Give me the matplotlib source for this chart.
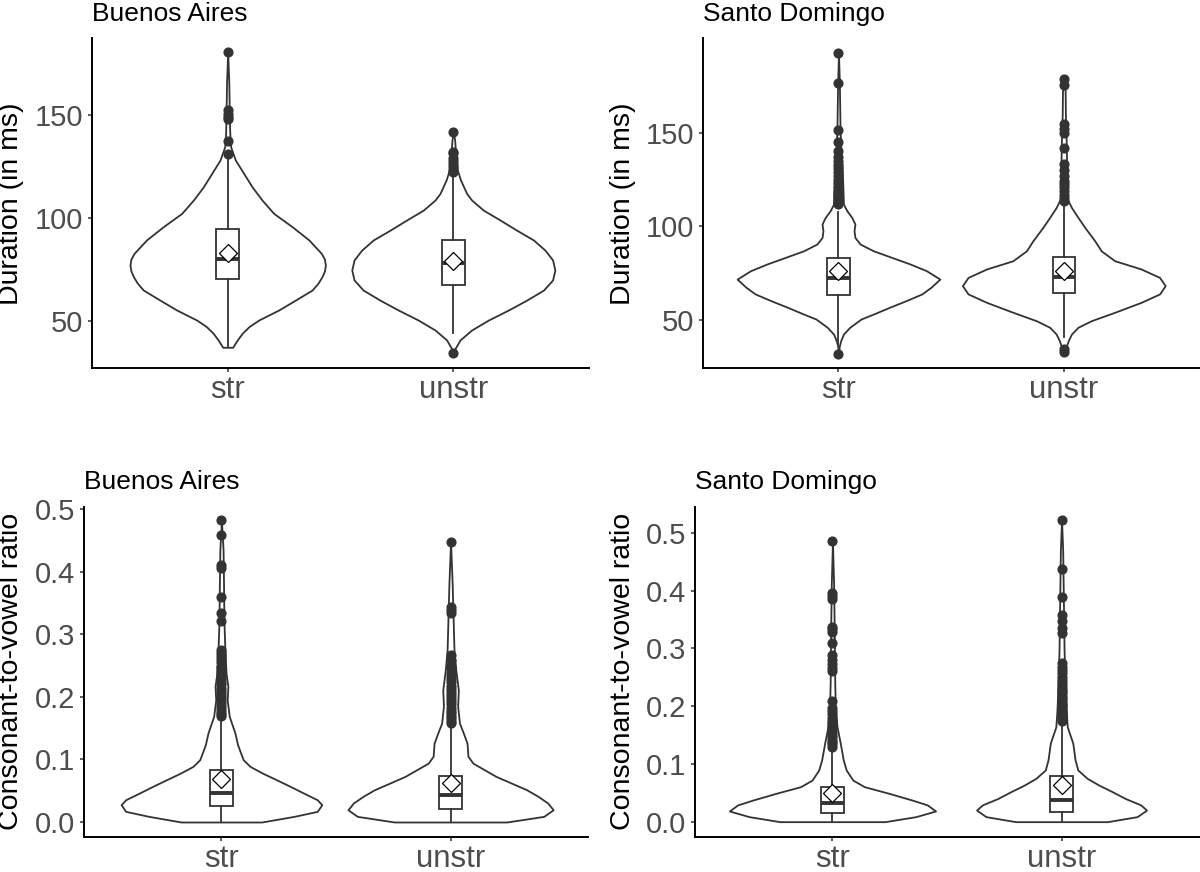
import matplotlib
matplotlib.use("Agg")
import matplotlib.pyplot as plt
from matplotlib.ticker import FormatStrFormatter
from matplotlib.transforms import blended_transform_factory

plt.rcParams['font.family'] = ['Liberation Sans', 'DejaVu Sans']

categories = ["str", "unstr"]

# ---- violin outlines: value grid + half width (x units)
ba_dur_str_y = [37.4, 40.9, 44.3, 47.5, 50.6, 55.5, 60.3, 65.2, 68.5, 71.7, 74.5, 77.3, 80.2, 83.0,
                89.5, 96.0, 102.4, 108.9, 115.3, 121.8, 128.3, 134.8, 142.0, 152.0, 166.0, 180.6]
ba_dur_str_w = [0.022, 0.042, 0.065, 0.095, 0.137, 0.226, 0.300, 0.374, 0.400, 0.418, 0.429, 0.433,
                0.429, 0.415, 0.360, 0.285, 0.204, 0.152, 0.108, 0.071, 0.034, 0.013, 0.009,
                0.007, 0.005, 0.0]
ba_dur_unstr_y = [34.5, 36.1, 41.0, 45.8, 50.6, 55.5, 60.3, 65.2, 70.1, 74.9, 79.8, 84.6, 89.5,
                  94.3, 99.2, 104.0, 108.9, 112.1, 118.6, 123.4, 129.9, 138.0, 142.0]
ba_dur_unstr_w = [0.0, 0.004, 0.03, 0.081, 0.155, 0.244, 0.325, 0.40, 0.44, 0.45, 0.44, 0.406, 0.355,
                  0.28, 0.207, 0.133, 0.081, 0.059, 0.032, 0.018, 0.011, 0.006, 0.0]

sd_dur_str_y = [32.3, 36.4, 39.1, 42.6, 46.2, 50.6, 53.5, 56.8, 60.4, 64.0, 67.5, 71.9, 76.4, 80.0,
                83.5, 87.0, 90.6, 94.1, 97.7, 101.3, 104.8, 108.4, 111.9, 119.0, 126.1, 133.3,
                140.4, 151.0, 176.0, 192.4]
sd_dur_str_w = [0.0, 0.004, 0.01, 0.022, 0.05, 0.1, 0.16, 0.225, 0.30, 0.37, 0.41, 0.45, 0.39, 0.317,
                0.236, 0.155, 0.096, 0.073, 0.069, 0.073, 0.059, 0.037, 0.022, 0.02, 0.018, 0.015,
                0.011, 0.007, 0.004, 0.0]
sd_dur_unstr_y = [33.2, 36.4, 39.1, 42.6, 46.2, 49.7, 54.2, 59.5, 64.0, 68.4, 72.8, 77.3, 81.7, 87.0,
                  92.4, 99.5, 104.8, 110.1, 115.5, 122.0, 130.0, 144.0, 160.0, 172.0, 178.9]
sd_dur_unstr_w = [0.0, 0.012, 0.02, 0.034, 0.063, 0.122, 0.226, 0.343, 0.425, 0.45, 0.425, 0.343,
                  0.226, 0.166, 0.137, 0.093, 0.063, 0.034, 0.012, 0.014, 0.013, 0.011, 0.007,
                  0.006, 0.0]

ba_cv_str_y = [0.0, 0.009, 0.017, 0.0276, 0.0356, 0.046, 0.057, 0.0676, 0.078, 0.0888, 0.0995,
               0.110, 0.124, 0.142, 0.169, 0.195, 0.217, 0.238, 0.275, 0.318, 0.382, 0.435, 0.482]
ba_cv_str_w = [0.176, 0.317, 0.418, 0.438, 0.418, 0.36, 0.30, 0.24, 0.18, 0.125, 0.095, 0.084,
               0.07, 0.059, 0.034, 0.025, 0.028, 0.020, 0.015, 0.011, 0.009, 0.007, 0.0]
ba_cv_unstr_y = [0.0, 0.009, 0.0196, 0.0304, 0.041, 0.0516, 0.0623, 0.073, 0.0835, 0.094, 0.105,
                 0.126, 0.142, 0.158, 0.185, 0.211, 0.243, 0.275, 0.328, 0.382, 0.448]
ba_cv_unstr_w = [0.245, 0.407, 0.448, 0.424, 0.382, 0.332, 0.265, 0.198, 0.148, 0.098, 0.076,
                 0.072, 0.056, 0.039, 0.031, 0.034, 0.023, 0.015, 0.011, 0.007, 0.0]

sd_cv_str_y = [0.0, 0.0087, 0.0185, 0.029, 0.0375, 0.049, 0.0606, 0.072, 0.0894, 0.107, 0.136,
               0.164, 0.193, 0.239, 0.326, 0.412, 0.486]
sd_cv_str_w = [0.229, 0.364, 0.45, 0.414, 0.347, 0.247, 0.139, 0.089, 0.06, 0.047, 0.034, 0.02,
               0.013, 0.01, 0.008, 0.005, 0.0]
sd_cv_unstr_y = [0.0, 0.0087, 0.02, 0.029, 0.04, 0.052, 0.0635, 0.075, 0.0894, 0.107, 0.136, 0.164,
                 0.193, 0.239, 0.297, 0.384, 0.47, 0.522]
sd_cv_unstr_w = [0.2, 0.33, 0.371, 0.346, 0.279, 0.221, 0.162, 0.112, 0.071, 0.059, 0.049, 0.025,
                 0.02, 0.015, 0.011, 0.008, 0.005, 0.0]

# ---- box stats: [whisker low, q1, median, q3, whisker high]
ba_dur_box = [[37.4, 70.4, 80.1, 94.7, 130.5], [44.2, 67.6, 78.3, 89.5, 121.5]]
sd_dur_box = [[37.5, 63.6, 72.5, 83.0, 107.5], [40.9, 64.5, 72.8, 83.8, 112.0]]
ba_cv_box = [[0.0, 0.026, 0.047, 0.0825, 0.166], [0.0, 0.0208, 0.0436, 0.074, 0.154]]
sd_cv_box = [[0.0, 0.0156, 0.033, 0.0606, 0.127], [0.0, 0.0173, 0.0375, 0.079, 0.171]]

ba_dur_mean = [83.0, 79.3]
sd_dur_mean = [76.0, 76.4]
ba_cv_mean = [0.0687, 0.0623]
sd_cv_mean = [0.050, 0.0635]

# ---- outliers
ba_dur_out = [[131.3, 137.5, 148.2, 149.3, 150.5, 152.6, 180.6],
              [34.5, 122.5, 123.5, 125.0, 126.5, 128.0, 129.5, 131.5, 132.3, 142.0]]
sd_dur_out = [[32.0, 111.9, 113.0, 114.5, 116.0, 117.5, 119.0, 121.0, 123.0, 125.0, 127.0, 129.0,
               131.0, 133.0, 135.0, 137.2, 140.4, 144.8, 151.4, 176.4, 192.5],
              [33.2, 34.5, 113.7, 115.0, 117.0, 119.0, 120.8, 122.5, 124.0, 127.0, 130.0, 133.3,
               142.1, 150.1, 152.0, 154.6, 175.4, 178.9]]
ba_cv_out = [[0.169, 0.172, 0.176, 0.181, 0.185, 0.19, 0.195, 0.2, 0.205, 0.21, 0.214, 0.22, 0.225,
              0.23, 0.236, 0.241, 0.246, 0.25, 0.256, 0.261, 0.265, 0.27, 0.275, 0.322, 0.334,
              0.36, 0.406, 0.411, 0.459, 0.482],
             [0.158, 0.162, 0.166, 0.17, 0.174, 0.178, 0.183, 0.188, 0.193, 0.198, 0.203, 0.208,
              0.213, 0.218, 0.223, 0.228, 0.233, 0.238, 0.244, 0.25, 0.259, 0.267, 0.334, 0.339,
              0.344, 0.448]]
sd_cv_out = [[0.13, 0.134, 0.138, 0.142, 0.146, 0.15, 0.155, 0.16, 0.165, 0.17, 0.175, 0.18, 0.186,
              0.191, 0.196, 0.209, 0.26, 0.266, 0.272, 0.28, 0.288, 0.31, 0.329, 0.333, 0.337,
              0.386, 0.39, 0.395, 0.486],
             [0.174, 0.178, 0.182, 0.186, 0.19, 0.194, 0.198, 0.202, 0.206, 0.21, 0.214, 0.218,
              0.222, 0.226, 0.23, 0.235, 0.24, 0.245, 0.251, 0.257, 0.263, 0.268, 0.274, 0.326,
              0.335, 0.347, 0.358, 0.388, 0.437, 0.522]]

DARK = "#333333"
fig = plt.figure(figsize=(12, 8.72), dpi=100)


def px_rect(left, right, top, bottom):
    W, H = 1200.0, 872.0
    return [left / W, 1 - bottom / H, (right - left) / W, (bottom - top) / H]


panels = [
    # rect, title, ylabel, violins, boxes, means, outliers, ylim, yticks, label x(px)
    (px_rect(92.3, 588.7, 38.3, 368.3), "Buenos Aires", "Duration (in ms)",
     [(ba_dur_str_y, ba_dur_str_w), (ba_dur_unstr_y, ba_dur_unstr_w)],
     ba_dur_box, ba_dur_mean, ba_dur_out, (27.2, 187.4), [50, 100, 150], 11.5),
    (px_rect(703.3, 1199, 38.3, 368.3), "Santo Domingo", "Duration (in ms)",
     [(sd_dur_str_y, sd_dur_str_w), (sd_dur_unstr_y, sd_dur_unstr_w)],
     sd_dur_box, sd_dur_mean, sd_dur_out, (24.3, 200.4), [50, 100, 150], 622.5),
    (px_rect(84, 588, 506.7, 836.7), "Buenos Aires", "Consonant-to-vowel ratio",
     [(ba_cv_str_y, ba_cv_str_w), (ba_cv_unstr_y, ba_cv_unstr_w)],
     ba_cv_box, ba_cv_mean, ba_cv_out, (-0.0235, 0.504), [0, 0.1, 0.2, 0.3, 0.4, 0.5], 11.0),
    (px_rect(695, 1199, 506.7, 836.7), "Santo Domingo", "Consonant-to-vowel ratio",
     [(sd_cv_str_y, sd_cv_str_w), (sd_cv_unstr_y, sd_cv_unstr_w)],
     sd_cv_box, sd_cv_mean, sd_cv_out, (-0.026, 0.545), [0, 0.1, 0.2, 0.3, 0.4, 0.5], 622.5),
]

for rect, title, ylabel, violins, boxes, means, outs, ylim, yticks, lab_x in panels:
    ax = fig.add_axes(rect)
    positions = range(1, len(categories) + 1)

    for pos, (vy, vw) in zip(positions, violins):
        left = [pos - w for w in vw]
        right = [pos + w for w in vw]
        ax.fill_betweenx(vy, left, right, facecolor="white", edgecolor=DARK,
                         linewidth=1.3, joinstyle="round", zorder=2)

    stats = []
    for b, m, o in zip(boxes, means, outs):
        stats.append(dict(whislo=b[0], q1=b[1], med=b[2], q3=b[3], whishi=b[4],
                          mean=m, fliers=o))
    ax.bxp(stats, positions=list(positions), widths=0.1, showcaps=False, showmeans=True,
           patch_artist=True, manage_ticks=False, zorder=3,
           boxprops=dict(facecolor="white", edgecolor=DARK, linewidth=1.3),
           whiskerprops=dict(color=DARK, linewidth=1.3),
           medianprops=dict(color=DARK, linewidth=2.8, solid_capstyle="butt"),
           flierprops=dict(marker="o", markerfacecolor=DARK, markeredgecolor=DARK,
                           markersize=6.3, linestyle="none"),
           meanprops=dict(marker="D", markerfacecolor="white", markeredgecolor="black",
                          markersize=9.5, markeredgewidth=0.9))

    ax.set_xlim(0.4, 2.6)
    ax.set_ylim(*ylim)
    ax.set_xticks(list(positions))
    ax.set_xticklabels(categories)
    ax.set_yticks(yticks)
    if max(yticks) < 1:
        ax.yaxis.set_major_formatter(FormatStrFormatter("%.1f"))

    for side in ["top", "right"]:
        ax.spines[side].set_visible(False)
    for side in ["left", "bottom"]:
        ax.spines[side].set_linewidth(1.4)
        ax.spines[side].set_color("black")
    ax.tick_params(axis="both", direction="out", length=3.2, width=1.1, color=DARK,
                   labelcolor="#4D4D4D")
    ax.tick_params(axis="y", labelsize=21, pad=3.2)
    ax.tick_params(axis="x", labelsize=22.5, pad=1.8)

    ax.set_title(title, loc="left", fontsize=19, pad=12.6, color="black")
    ax.set_ylabel(ylabel, fontsize=20.5, color="black", va="center")
    ax.yaxis.set_label_coords(lab_x / 1200.0, 0.5,
                              transform=blended_transform_factory(fig.transFigure, ax.transAxes))

fig.savefig("out.png", dpi=100)
